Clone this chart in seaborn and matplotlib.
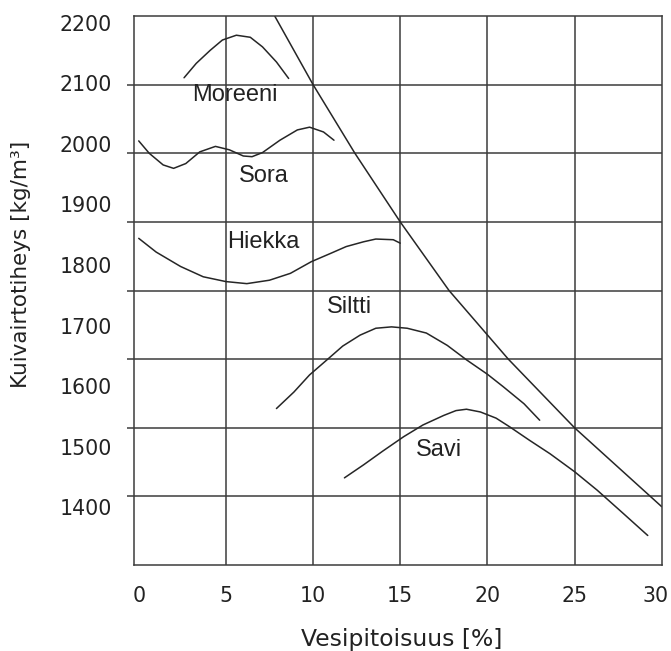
import matplotlib
matplotlib.use("Agg")
import matplotlib.pyplot as plt
import matplotlib.transforms as mtransforms
import seaborn as sns
import pandas as pd

# Proctor compaction curves: water content [%] vs dry density [kg/m3]
moreeni_x = [2.6, 3.3, 4.1, 4.8, 5.6, 6.4, 7.1, 7.9, 8.6]
moreeni_y = [2110, 2131, 2150, 2165, 2172, 2169, 2155, 2133, 2109]

sora_x = [0.0, 0.6, 1.4, 2.0, 2.7, 3.5, 4.4, 5.2, 6.0, 6.5, 7.1, 8.1, 9.1, 9.8, 10.6, 11.2]
sora_y = [2018, 2000, 1983, 1978, 1985, 2002, 2010, 2005, 1996, 1995, 2001, 2019, 2034, 2038, 2031, 2019]

hiekka_x = [0.0, 1.0, 2.4, 3.7, 5.0, 6.2, 7.5, 8.7, 9.9, 11.0, 11.9, 12.9, 13.6, 14.6, 15.0]
hiekka_y = [1876, 1856, 1835, 1820, 1813, 1810, 1815, 1825, 1842, 1854, 1864, 1871, 1875, 1874, 1869]

siltti_x = [7.9, 8.9, 9.8, 10.8, 11.7, 12.7, 13.6, 14.5, 15.4, 16.5, 17.7, 18.8, 20.0, 20.9, 22.1, 23.0]
siltti_y = [1628, 1652, 1677, 1699, 1719, 1735, 1745, 1747, 1745, 1738, 1720, 1699, 1678, 1660, 1635, 1611]

savi_x = [11.8, 12.9, 14.0, 15.2, 16.3, 17.5, 18.2, 18.8, 19.6, 20.5, 21.3, 22.4, 23.6, 25.0, 26.3, 27.8, 29.2]
savi_y = [1527, 1546, 1566, 1587, 1604, 1618, 1625, 1627, 1623, 1614, 1601, 1582, 1562, 1536, 1509, 1475, 1443]

# full saturation line
kyll_x = [7.8, 10.0, 12.4, 15.0, 17.8, 21.2, 25.0, 30.0]
kyll_y = [2200, 2100, 2000, 1900, 1800, 1700, 1600, 1485]

soil_names = ["Moreeni", "Sora", "Hiekka", "Siltti", "Savi"]
name_x = [5.5, 7.15, 7.15, 12.1, 17.2]
name_y = [2085, 1967, 1870, 1776, 1567]

x_ticks = [0, 5, 10, 15, 20, 25, 30]
y_grid = [1500, 1600, 1700, 1800, 1900, 2000, 2100]
y_labels = [1400, 1500, 1600, 1700, 1800, 1900, 2000, 2100, 2200]

sns.set_theme(style="white")
plt.rcParams["font.family"] = ["DejaVu Sans"]

GRID = "#3c3c3c"
INK = "#262626"
TXT = "#222222"
LABEL_FONT = ["Liberation Sans", "DejaVu Sans"]

fig = plt.figure(figsize=(6.71, 6.51), dpi=100)
ax = fig.add_axes([0.19896, 0.13210, 0.78718, 0.84332])

curves = [
    (moreeni_x, moreeni_y),
    (sora_x, sora_y),
    (hiekka_x, hiekka_y),
    (siltti_x, siltti_y),
    (savi_x, savi_y),
    (kyll_x, kyll_y),
]
for cx, cy in curves:
    df = pd.DataFrame({"w": cx, "rho": cy})
    sns.lineplot(data=df, x="w", y="rho", ax=ax, color=INK, linewidth=1.1,
                 estimator=None, sort=False)

for name, tx, ty in zip(soil_names, name_x, name_y):
    ax.text(tx, ty, name, ha="center", va="center", fontsize=17,
            color=TXT, family=LABEL_FONT)

ax.set_xlim(-0.3, 30)
ax.set_ylim(1400, 2200)

ax.set_xticks(x_ticks)
ax.set_xticklabels([str(v) for v in x_ticks], fontsize=14.8, color=TXT)
ax.set_yticks(y_grid)
ax.tick_params(axis="y", labelleft=False)
ax.tick_params(axis="both", direction="out", length=5, width=1.1, color=GRID)
ax.tick_params(axis="x", pad=10.3)
ax.grid(True, color=GRID, linewidth=1.1)
xt = ax.xaxis.get_major_ticks()
for t in (xt[0], xt[-1]):
    t.tick1line.set_visible(False)
    t.gridline.set_visible(False)
# keep the last x label inside the figure
last = xt[-1].label1
last.set_transform(last.get_transform()
                   + mtransforms.ScaledTranslation(-5.7 / 100, 0, fig.dpi_scale_trans))

for s in ax.spines.values():
    s.set_visible(True)
    s.set_color(GRID)
    s.set_linewidth(1.1)

# density labels on their own scale along the left edge
lab = ax.twinx()
lab.set_ylim(1305, 2211)
lab.yaxis.tick_left()
lab.set_yticks(y_labels)
lab.set_yticklabels([str(v) for v in y_labels], fontsize=14.8, color=TXT)
lab.tick_params(axis="y", length=0, pad=15.5)
lab.grid(False)
for s in lab.spines.values():
    s.set_visible(False)

ax.set_xlabel("Vesipitoisuus [%]", fontsize=16.9, color=TXT, va="center")
ax.xaxis.set_label_coords(0.5074, -0.1348)
ax.set_ylabel("Kuivairtotiheys [kg/m³]", fontsize=15.5, color=TXT, va="center")
ax.yaxis.set_label_coords(-0.213, 0.548)

fig.savefig("out.png", dpi=100)
